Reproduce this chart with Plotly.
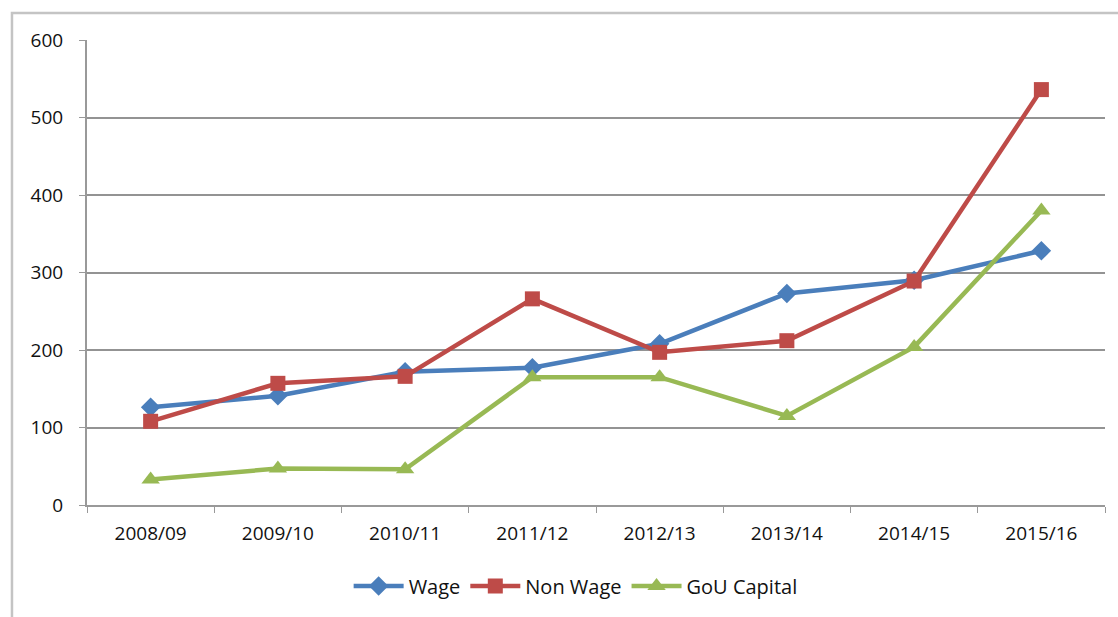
import plotly.graph_objects as go

years = ["2008/09", "2009/10", "2010/11", "2011/12", "2012/13", "2013/14", "2014/15", "2015/16"]
wage = [126, 141, 172, 177, 208, 273, 290, 328]
non_wage = [108, 157, 166, 266, 197, 212, 289, 536]
gou_capital = [33, 47, 46, 165, 165, 115, 204, 380]

fig = go.Figure()
fig.add_trace(go.Scatter(x=years, y=wage, name="Wage", mode="lines+markers",
                         line=dict(color="#4a7ebb", width=4.5),
                         marker=dict(symbol="diamond", size=15, color="#4a7ebb")))
fig.add_trace(go.Scatter(x=years, y=non_wage, name="Non Wage", mode="lines+markers",
                         line=dict(color="#be4b48", width=4.5),
                         marker=dict(symbol="square", size=15, color="#be4b48")))
fig.add_trace(go.Scatter(x=years, y=gou_capital, name="GoU Capital", mode="lines+markers",
                         line=dict(color="#98b954", width=4.5),
                         marker=dict(symbol="triangle-up", size=16, color="#98b954")))

fig.update_layout(
    width=1118, height=617,
    margin=dict(l=87, r=13, t=40, b=111),
    paper_bgcolor="white", plot_bgcolor="white",
    font=dict(family="Open Sans, sans-serif", size=19, color="#111111"),
    showlegend=True,
    legend=dict(orientation="h", x=0.48, xanchor="center", y=-0.13, yanchor="top",
                font=dict(size=20), itemwidth=50, tracegroupgap=0),
    shapes=[dict(type="rect", xref="paper", yref="paper",
                 x0=-0.0737, x1=1.2, y0=-0.5, y1=1.058,
                 line=dict(color="#c4c4c4", width=2.5))],
)
fig.update_xaxes(type="category", range=[-0.5, 7.5], showline=True, linecolor="#999999", linewidth=2,
                 ticks="outside", tickson="boundaries", ticklen=6, tickcolor="#999999",
                 showgrid=False, ticklabelstandoff=10)
fig.update_yaxes(range=[0, 600], dtick=100, showline=True, linecolor="#999999", linewidth=2,
                 ticks="outside", ticklen=6, tickcolor="#999999",
                 showgrid=True, gridcolor="#939393", gridwidth=1.5, zeroline=False,
                 ticklabelstandoff=12)

fig.write_html("out.html")
